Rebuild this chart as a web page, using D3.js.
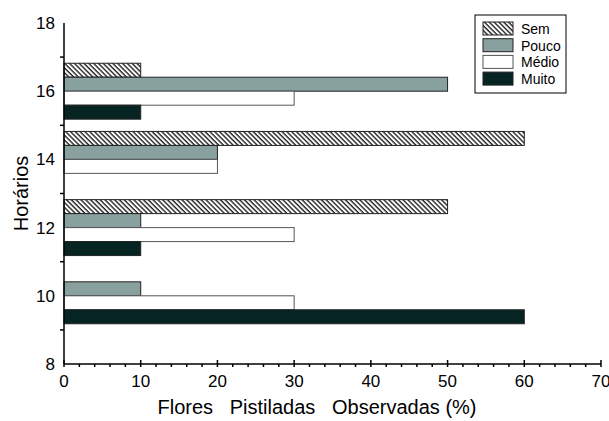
<!DOCTYPE html>
<html>
<head>
	<meta charset="utf-8">
	<title></title>
	<style>
		body { margin: 0; background: #fff; }
		text { font-family: "Liberation Sans", Arial, sans-serif; fill: #000; }
	</style>
</head>
<body>
	<svg id="container" width="609" height="421"></svg>
</body>
<script type="text/javascript" src="https://cdn.jsdelivr.net/npm/d3@7"></script>
<script>
	// data
	let hours = [16, 14, 12, 10]
	let seriesNames = ["Sem", "Pouco", "Médio", "Muito"]
	let sem = [10, 60, 50, 0]
	let pouco = [50, 20, 10, 10]
	let medio = [30, 20, 30, 30]
	let muito = [10, 0, 10, 60]
	let xTickValues = [0, 10, 20, 30, 40, 50, 60, 70]
	let yLabelValues = [8, 10, 12, 14, 16, 18]

	let fills = ["url(#hatch)", "#88a09e", "#ffffff", "#062422"]
	let strokes = ["#222", "#222", "#555", "#222"]
	let allSeries = [sem, pouco, medio, muito]

	let container = d3.select("#container")

	let defs = container.append("defs")
	let pat = defs.append("pattern")
		.attr("id", "hatch")
		.attr("patternUnits", "userSpaceOnUse")
		.attr("width", 3.4)
		.attr("height", 3.4)
		.attr("patternTransform", "rotate(-45)")
	pat.append("rect").attr("width", 3.4).attr("height", 3.4).attr("fill", "#fff")
	pat.append("line")
		.attr("x1", 1).attr("x2", 1).attr("y1", 0).attr("y2", 3.4)
		.attr("stroke", "#222").attr("stroke-width", 1.4)

	let x = d3.scaleLinear().domain([0, 70]).range([64, 601])
	let y = d3.scaleLinear().domain([8, 18]).range([364, 23])

	// one band per series inside each hour group
	let half = 0.82
	let band = d3.scaleBand().domain(seriesNames).range([0, 1]).paddingInner(0)

	let rows = []
	hours.forEach((h, i) => {
		seriesNames.forEach((s, j) => {
			rows.push({ hour: h, series: s, idx: j, value: allSeries[j][i] })
		})
	})

	container.selectAll("rect.bar")
		.data(rows.filter(d => d.value > 0))
		.enter()
		.append("rect")
		.attr("class", "bar")
		.attr("x", x(0))
		.attr("y", d => {
			let top = y(d.hour + half), bot = y(d.hour - half)
			return top + band(d.series) * (bot - top)
		})
		.attr("height", d => band.bandwidth() * (y(d.hour - half) - y(d.hour + half)))
		.attr("width", d => x(d.value) - x(0))
		.attr("fill", d => fills[d.idx])
		.attr("stroke", d => strokes[d.idx])
		.attr("stroke-width", 1)

	// x axis: major ticks every 10, minor every 2
	let xAxisG = container.append("g").attr("transform", "translate(0," + y(8) + ")")
	xAxisG.append("line").attr("x1", x(0)).attr("x2", x(70)).attr("stroke", "#000").attr("stroke-width", 1.5)
	xAxisG.selectAll("line.minor")
		.data(d3.range(0, 71, 2).filter(v => v % 10 != 0))
		.enter().append("line")
		.attr("class", "minor")
		.attr("x1", d => x(d)).attr("x2", d => x(d))
		.attr("y1", 0).attr("y2", 3)
		.attr("stroke", "#000").attr("stroke-width", 1.5)
	xAxisG.selectAll("line.major")
		.data(xTickValues)
		.enter().append("line")
		.attr("class", "major")
		.attr("x1", d => x(d)).attr("x2", d => x(d))
		.attr("y1", -4).attr("y2", 3)
		.attr("stroke", "#000").attr("stroke-width", 1.5)
	xAxisG.selectAll("text")
		.data(xTickValues)
		.enter().append("text")
		.attr("x", d => x(d))
		.attr("y", 23)
		.attr("text-anchor", "middle")
		.style("font-size", "17px")
		.text(d => d)

	// y axis: labels at even hours, ticks at odd hours
	let yAxisG = container.append("g").attr("transform", "translate(" + x(0) + ",0)")
	yAxisG.append("line").attr("y1", y(18)).attr("y2", y(8)).attr("stroke", "#000").attr("stroke-width", 1.5)
	yAxisG.selectAll("line.tick")
		.data([9, 11, 13, 15, 17])
		.enter().append("line")
		.attr("class", "tick")
		.attr("y1", d => y(d)).attr("y2", d => y(d))
		.attr("x1", -4).attr("x2", 0)
		.attr("stroke", "#000").attr("stroke-width", 1.5)
	yAxisG.selectAll("text")
		.data(yLabelValues)
		.enter().append("text")
		.attr("x", -9)
		.attr("y", d => y(d) + 6)
		.attr("text-anchor", "end")
		.style("font-size", "17px")
		.text(d => d)

	// titles
	container.append("text")
		.attr("x", 317)
		.attr("y", 414)
		.attr("text-anchor", "middle")
		.attr("xml:space", "preserve")
		.style("white-space", "pre")
		.style("font-size", "20px")
		.text("Flores   Pistiladas   Observadas (%)")

	container.append("text")
		.attr("transform", "translate(28," + y(13) + ") rotate(-90)")
		.attr("text-anchor", "middle")
		.style("font-size", "20px")
		.text("Horários")

	// legend
	let legend = container.append("g")
	legend.append("rect")
		.attr("x", 475).attr("y", 15).attr("width", 91).attr("height", 78)
		.attr("fill", "#fff").attr("stroke", "#000").attr("stroke-width", 1)
	let items = legend.selectAll("g.item")
		.data(seriesNames)
		.enter().append("g")
		.attr("class", "item")
		.attr("transform", (d, i) => "translate(483," + (22 + i * 16.7) + ")")
	items.append("rect")
		.attr("width", 30).attr("height", 13)
		.attr("fill", (d, i) => fills[i])
		.attr("stroke", (d, i) => strokes[i])
	items.append("text")
		.attr("x", 38).attr("y", 12)
		.style("font-size", "14px")
		.text(d => d)
</script>
</html>
